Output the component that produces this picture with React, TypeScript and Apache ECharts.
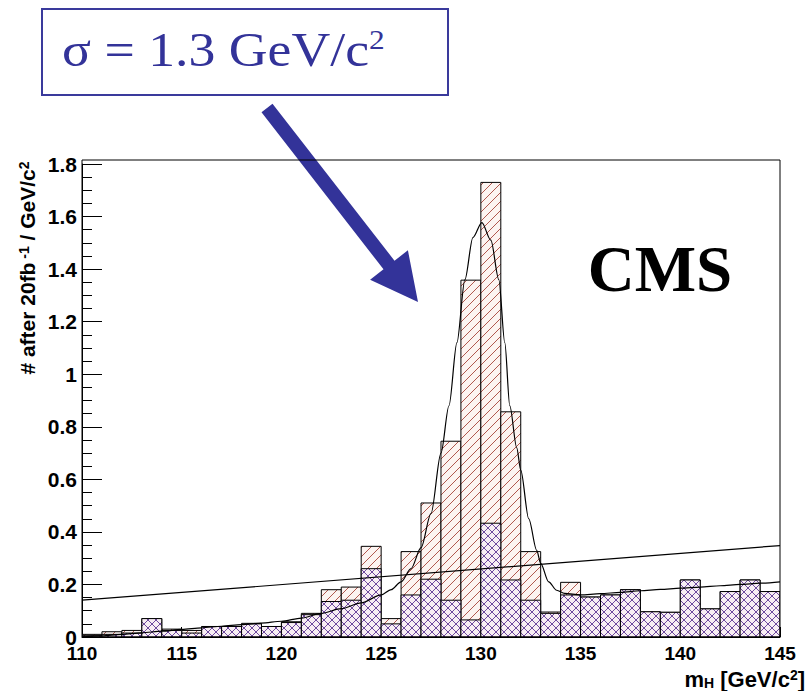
import React, { useEffect, useRef } from "react";
import * as echarts from "echarts";

// Histogram bins (GeV/c^2), lower edges, width 1
const binLow = [110,111,112,113,114,115,116,117,118,119,120,121,122,123,124,125,126,127,128,129,130,131,132,133,134,135,136,137,138,139,140,141,142,143,144];
const binWidth = 1;
// signal + background (diagonal hatch)
const totalCounts = [0.01,0.02,0.025,0.07,0.03,0.025,0.04,0.04,0.052,0.04,0.058,0.09,0.18,0.19,0.345,0.07,0.325,0.51,0.745,1.358,1.73,0.857,0.325,0.095,0.208,0.152,0.16,0.18,0.096,0.094,0.217,0.107,0.173,0.217,0.173];
// background only (cross hatch)
const bkgCounts = [0.005,0.01,0.015,0.07,0.025,0.015,0.04,0.04,0.05,0.04,0.055,0.085,0.135,0.14,0.26,0.05,0.16,0.22,0.14,0.065,0.433,0.217,0.14,0.09,0.16,0.152,0.16,0.18,0.096,0.094,0.217,0.107,0.173,0.217,0.173];
// fitted curve (gaussian + background)
const fitX = [110,111,112,113,114,115,116,117,118,119,120,121,122,123,124,125,125.5,126,126.5,127,127.5,128,128.4,128.8,129.2,129.6,130.05,130.5,130.9,131.2,131.45,131.8,132,132.4,132.8,133,133.4,133.8,134.2,135,136,137,138,139,140,141,142,143,144,145];
const fitY = [0.0,0.004,0.01,0.016,0.022,0.029,0.035,0.041,0.047,0.053,0.06,0.072,0.09,0.108,0.13,0.16,0.18,0.21,0.26,0.34,0.47,0.7,0.88,1.12,1.36,1.52,1.577,1.51,1.36,1.12,0.88,0.72,0.635,0.45,0.33,0.28,0.21,0.178,0.166,0.16,0.165,0.17,0.176,0.181,0.186,0.19,0.195,0.2,0.205,0.21];
// straight line
const lineX = [110, 145];
const lineY = [0.14, 0.348];

const xMin = 110, xMax = 145, xInterval = 5;
const yMin = 0, yMax = 1.8, yInterval = 0.2;

function makeHatch(size: number, bg: string, color: string, lw: number, cross: boolean) {
  const c = document.createElement("canvas");
  c.width = size;
  c.height = size;
  const ctx = c.getContext("2d")!;
  ctx.fillStyle = bg;
  ctx.fillRect(0, 0, size, size);
  ctx.strokeStyle = color;
  ctx.lineWidth = lw;
  ctx.beginPath();
  for (const o of [-size, 0, size]) {
    ctx.moveTo(o, size);
    ctx.lineTo(o + size, 0);
  }
  if (cross) {
    for (const o of [-size, 0, size]) {
      ctx.moveTo(o, 0);
      ctx.lineTo(o + size, size);
    }
  }
  ctx.stroke();
  return { image: c.toDataURL(), repeat: "repeat", imageWidth: size, imageHeight: size } as any;
}

export default function App() {
  const ref = useRef<HTMLDivElement>(null);
  useEffect(() => {
    if (!ref.current) return;
    const chart = echarts.init(ref.current, undefined, { renderer: "svg" });
    const diag = makeHatch(9, "#fcf4f1", "#b0584e", 1, false);
    const cross = makeHatch(8, "#f8eef4", "#6e4a9e", 1, true);

    const histSeries = (vals: number[], fill: any, z: number) => ({
      type: "custom",
      z,
      clip: true,
      data: binLow.map((lo, i) => [lo, lo + binWidth, vals[i]]),
      encode: { x: [0, 1], y: 2 },
      renderItem: (params: any, api: any) => {
        const p0 = api.coord([api.value(0), api.value(2)]);
        const p1 = api.coord([api.value(1), 0]);
        return {
          type: "rect",
          shape: { x: p0[0], y: p0[1], width: p1[0] - p0[0], height: p1[1] - p0[1] },
          style: { fill, stroke: "#000", lineWidth: 1 },
        };
      },
    });

    const fmtY = (v: number) => {
      const k = v / yInterval;
      if (Math.abs(k - Math.round(k)) > 1e-6) return "";
      return String(parseFloat(v.toFixed(1)));
    };

    chart.setOption({
      animation: false,
      backgroundColor: "#fff",
      grid: { left: 82, right: 29, top: 164, bottom: 54, show: false },
      xAxis: {
        type: "value",
        min: xMin,
        max: xMax,
        interval: xInterval,
        axisLine: { show: true, onZero: false, lineStyle: { color: "#000", width: 1 } },
        axisTick: { show: true, inside: true, length: 10, lineStyle: { color: "#000" } },
        minorTick: { show: true, splitNumber: 5, length: 5, lineStyle: { color: "#000" } },
        splitLine: { show: false },
        axisLabel: {
          color: "#000",
          fontSize: 19,
          fontWeight: "bold",
          fontFamily: "Liberation Sans",
          margin: 7,
        },
      },
      yAxis: {
        type: "value",
        min: yMin,
        max: yMax,
        interval: yInterval,
        axisLine: { show: true, onZero: false, lineStyle: { color: "#000", width: 1 } },
        axisTick: { show: true, inside: true, length: 20, lineStyle: { color: "#000" } },
        minorTick: { show: true, splitNumber: 4, length: 10, lineStyle: { color: "#000" } },
        splitLine: { show: false },
        axisLabel: {
          color: "#000",
          fontSize: 21,
          fontWeight: "bold",
          fontFamily: "Liberation Sans",
          margin: 5,
          formatter: fmtY,
        },
      },
      series: [
        histSeries(totalCounts, diag, 1),
        histSeries(bkgCounts, cross, 2),
        {
          type: "line",
          z: 5,
          data: lineX.map((x, i) => [x, lineY[i]]),
          showSymbol: false,
          symbol: "none",
          lineStyle: { color: "#000", width: 1.2 },
        },
        {
          type: "line",
          z: 5,
          data: fitX.map((x, i) => [x, fitY[i]]),
          showSymbol: false,
          symbol: "none",
          smooth: 0.3,
          smoothMonotone: "x",
          lineStyle: { color: "#000", width: 1.2 },
        },
      ],
      graphic: [
        // frame
        {
          type: "rect",
          z: 10,
          shape: { x: 82, y: 160, width: 698, height: 477 },
          style: { fill: "none", stroke: "#000", lineWidth: 1 },
          silent: true,
        },
        // sigma box
        {
          type: "rect",
          shape: { x: 42, y: 9, width: 406, height: 86 },
          style: { fill: "#fff", stroke: "#3a3a9c", lineWidth: 2 },
        },
        {
          type: "text",
          x: 62,
          y: 50,
          scaleX: 1.12,
          style: {
            text: "{m|σ = 1.3 GeV/c}{s|2}",
            align: "left",
            verticalAlign: "middle",
            rich: {
              m: { font: '48px "Liberation Serif"', fill: "#333399" },
              s: { font: '28px "Liberation Serif"', fill: "#333399", verticalAlign: "top" },
            },
          },
        },
        // arrow
        {
          type: "polygon",
          shape: {
            points: [
              [261.5, 112.3],
              [272.5, 103.7],
              [394.5, 260.7],
              [407.9, 250.3],
              [418, 302],
              [370.1, 279.7],
              [383.5, 269.3],
            ],
          },
          style: { fill: "#333399" },
        },
        // CMS
        {
          type: "text",
          x: 660,
          y: 269,
          style: {
            text: "CMS",
            font: 'bold 65px "Liberation Serif"',
            fill: "#000",
            align: "center",
            verticalAlign: "middle",
          },
        },
        // y title
        {
          type: "text",
          x: 27,
          y: 268,
          rotation: Math.PI / 2,
          style: {
            text: "{a|# after 20fb}{s| -1}{a| / GeV/c}{s|2}",
            align: "center",
            verticalAlign: "middle",
            rich: {
              a: { font: 'bold 21px "Liberation Sans"', fill: "#000" },
              s: { font: 'bold 14px "Liberation Sans"', fill: "#000", verticalAlign: "top" },
            },
          },
        },
        // x title
        {
          type: "text",
          x: 805,
          y: 679,
          style: {
            text: "{a|m}{h|H}{a| [GeV/c}{s|2}{a|]}",
            align: "right",
            verticalAlign: "middle",
            rich: {
              a: { font: 'bold 22px "Liberation Sans"', fill: "#000" },
              h: { font: 'bold 14px "Liberation Sans"', fill: "#000", verticalAlign: "bottom" },
              s: { font: 'bold 14px "Liberation Sans"', fill: "#000", verticalAlign: "top" },
            },
          },
        },
      ],
    });
    return () => chart.dispose();
  }, []);
  return (
    <div
      ref={ref}
      style={{ position: "fixed", left: 0, top: 0, width: 809, height: 691, background: "#fff" }}
    />
  );
}
